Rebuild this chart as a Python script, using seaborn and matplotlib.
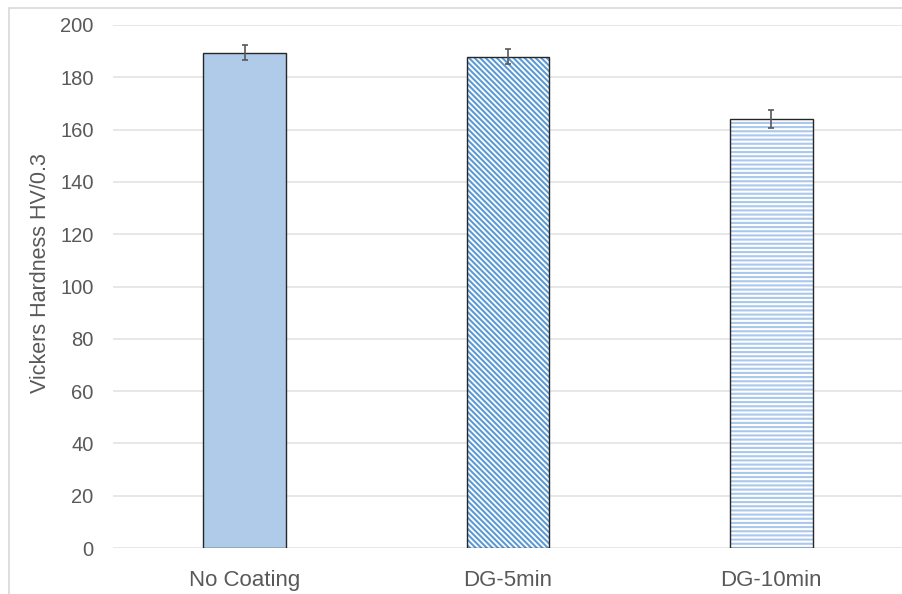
import numpy as np
import pandas as pd
import seaborn as sns
import matplotlib.pyplot as plt
from matplotlib.lines import Line2D

# data
categories = ['No Coating', 'DG-5min', 'DG-10min']
hardness = [189.4, 187.9, 164.0]
hardness_err = [2.8, 2.8, 3.4]

fill_colors = ['#AFCBE9', '#FFFFFF', '#FFFFFF']
hatches = ['', '\\' * 6, '----']
hatch_colors = ['#AFCBE9', '#5B9BD5', '#A9C8EC']

df = pd.DataFrame({'cat': categories, 'hv': hardness})

sns.set_style('white')
plt.rcParams['font.family'] = ['Liberation Sans', 'DejaVu Sans']
plt.rcParams['hatch.linewidth'] = 1.5

text_col = '#595959'

fig = plt.figure(figsize=(9.03, 5.94), dpi=100)
ax = fig.add_axes([113 / 903, 46 / 594, 790 / 903, 523 / 594])

# filled / hatched bars
sns.barplot(data=df, x='cat', y='hv', hue='cat', palette=fill_colors,
            saturation=1, width=0.315, legend=False, ax=ax, zorder=2)
for p, h, hc in zip(ax.patches, hatches, hatch_colors):
    p.set_hatch(h)
    p.set_edgecolor(hc)
    p.set_linewidth(0)

# dark outline on top
sns.barplot(data=df, x='cat', y='hv', fill=False, color='#262626',
            saturation=1, width=0.315, linewidth=1.0, ax=ax, zorder=3)

ax.errorbar(np.arange(len(categories)), hardness, yerr=hardness_err,
            fmt='none', ecolor='#595959', elinewidth=1.2, capsize=2.5,
            capthick=1.2, zorder=4)

ax.set_ylim(0, 200)
ax.set_xlim(-0.5, 2.5)
ax.set_yticks(range(0, 201, 20))
ax.yaxis.grid(True, color='#E3E3E3', linewidth=1.2, zorder=0)
ax.set_axisbelow(True)
for s in ax.spines.values():
    s.set_visible(False)

ax.tick_params(axis='y', length=0, pad=14, labelsize=14.5, labelcolor=text_col)
ax.tick_params(axis='x', length=0, pad=16, labelsize=16, labelcolor=text_col)
ax.set_xlabel('')
ax.set_ylabel('Vickers Hardness HV/0.3', fontsize=15.5, color=text_col)
ax.yaxis.set_label_coords(-0.079, 0.525)

# light chart-area border (left and top)
fig.add_artist(Line2D([8.5 / 903, 8.5 / 903], [0, 1 - 7.5 / 594],
                      transform=fig.transFigure, color='#D9D9D9', lw=1.2))
fig.add_artist(Line2D([8.5 / 903, 1], [1 - 7.5 / 594, 1 - 7.5 / 594],
                      transform=fig.transFigure, color='#D9D9D9', lw=1.2))

fig.savefig('out.png', dpi=100)
